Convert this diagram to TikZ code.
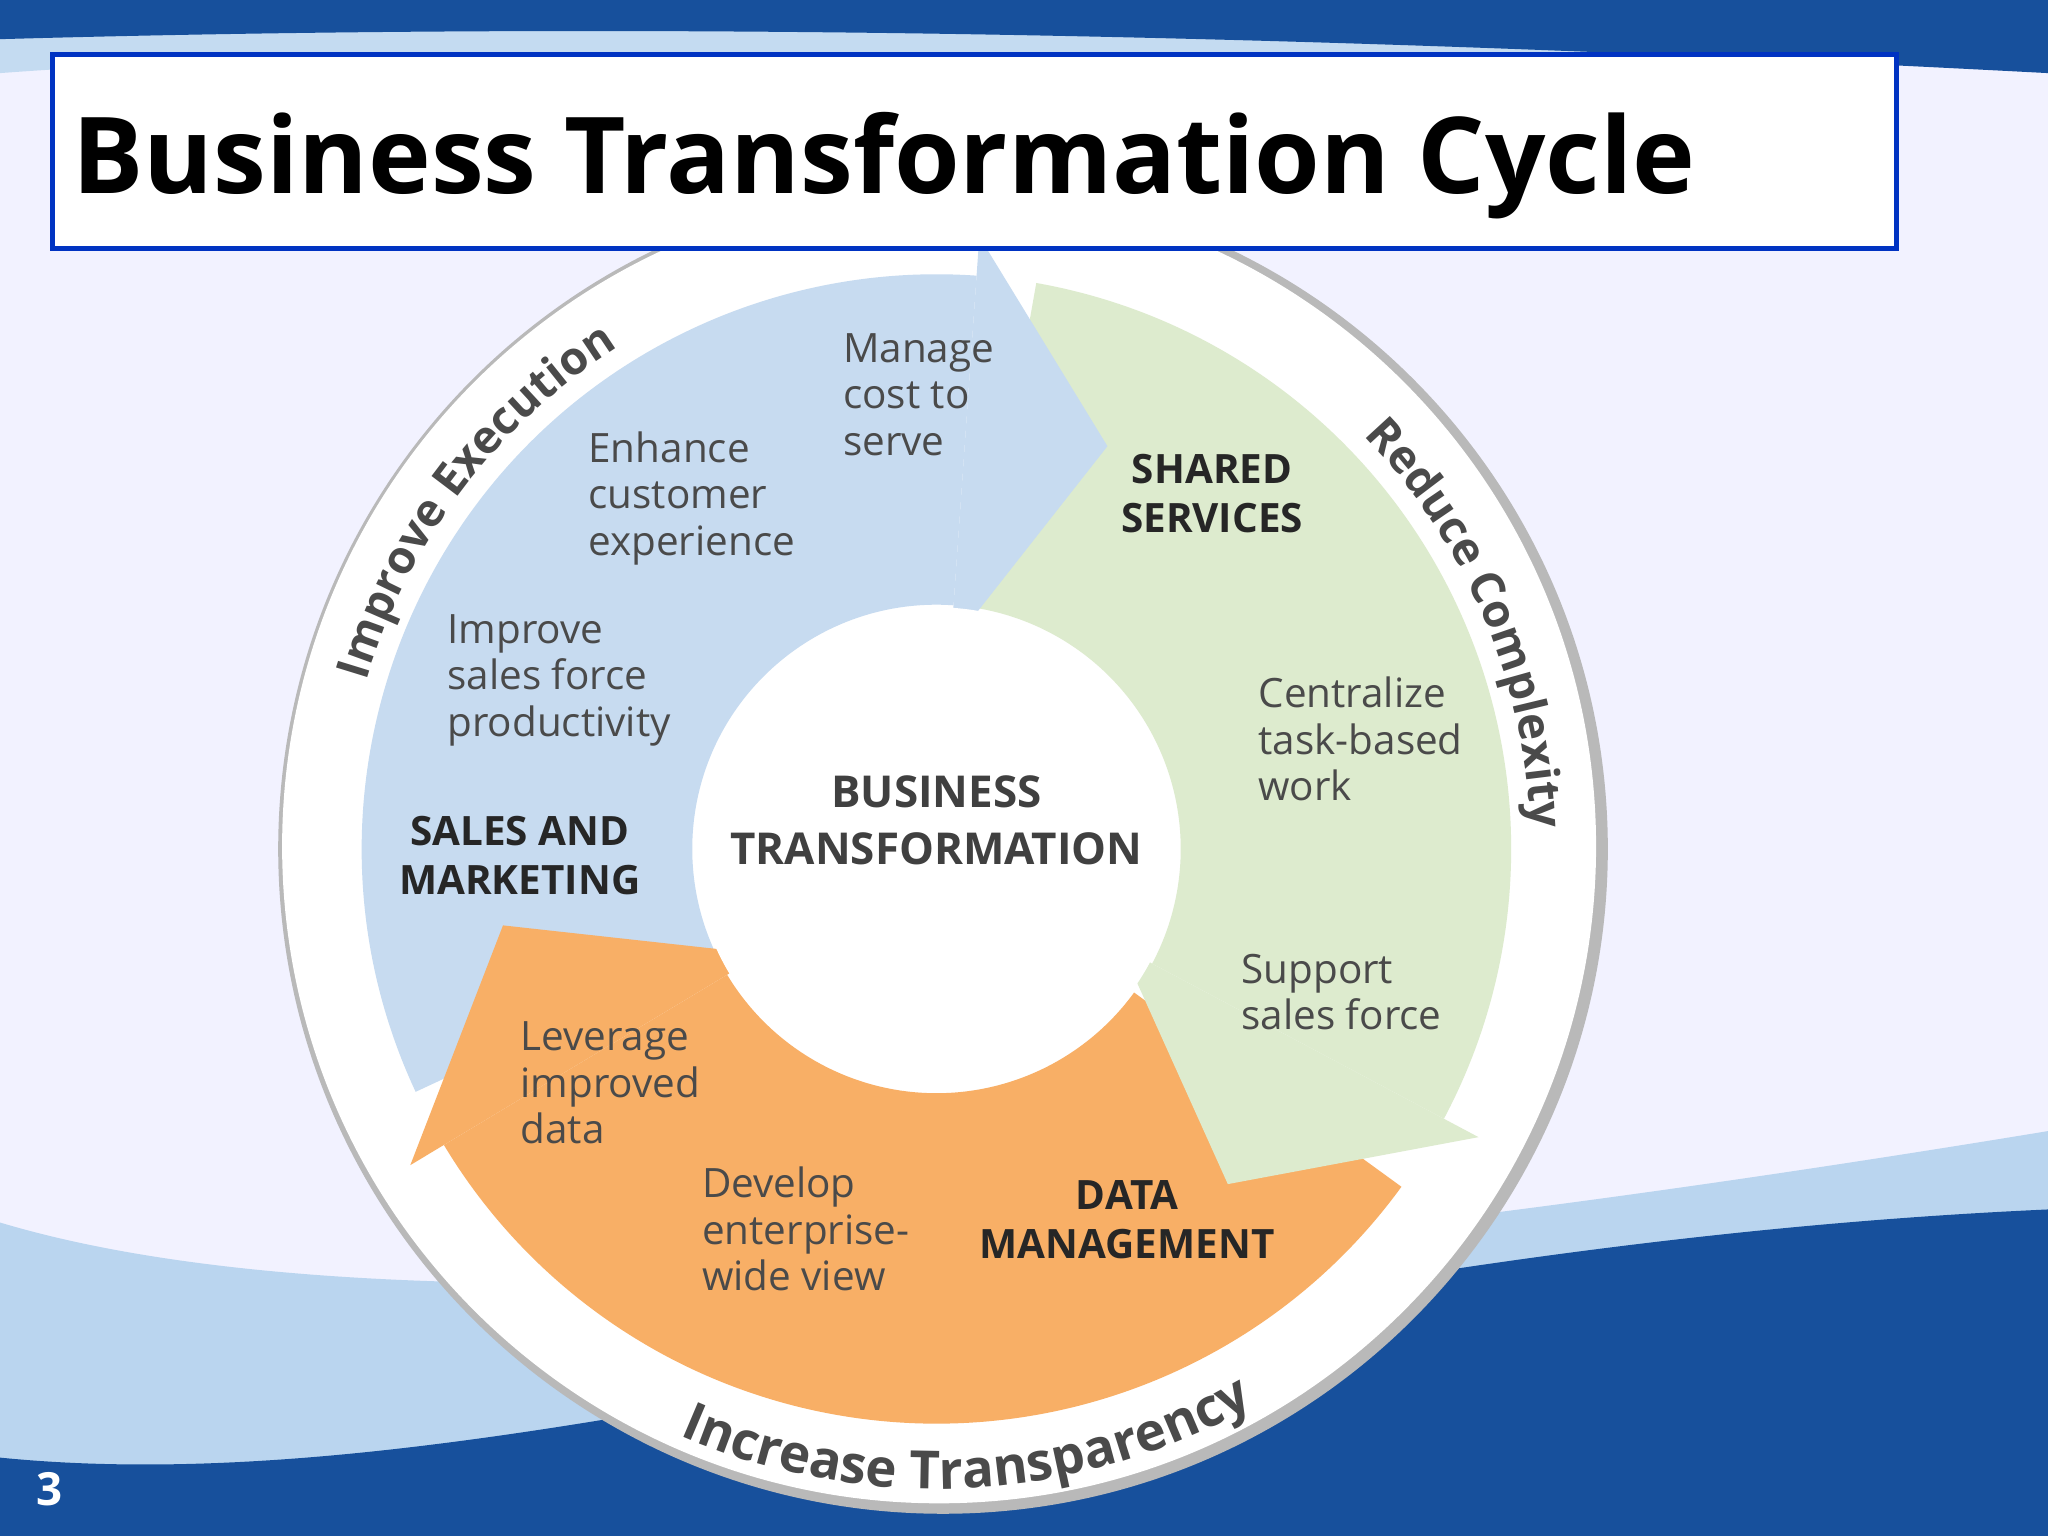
\documentclass[tikz,border=0pt]{standalone}
\usepackage{fontspec}
\setmainfont{Open Sans}
\setsansfont{Open Sans}
\usetikzlibrary{decorations.text}
\definecolor{bluA}{HTML}{C7DBF0}
\definecolor{grnA}{HTML}{DDEBCE}
\definecolor{orgA}{HTML}{F8AF66}
\definecolor{dkblue}{HTML}{17509C}
\definecolor{ltblue}{HTML}{9CC3E8}
\definecolor{txtgray}{HTML}{4A4A4A}
\begin{document}
\begin{tikzpicture}[x=0.013061cm,y=0.013061cm,
  txt/.style={anchor=north west,align=left,font=\fontsize{11.5}{13.2}\selectfont,text=txtgray,inner sep=0},
  hdr/.style={align=center,font=\fontsize{11.5}{14}\selectfont\bfseries,text=black!85,inner sep=0},
  arcdec/.style={decoration={text along path,text={#1},text align=center},decorate}]
\useasboundingbox (0,0) rectangle (1568,1176);
% background
\fill[white!95!blue] (0,0) rectangle (1568,1176);
\fill[ltblue!60] (0,1176) -- (0,1120) .. controls (400,1150) and (900,1110) .. (1568,1150) -- (1568,1176) -- cycle;
\fill[dkblue] (0,1176) -- (0,1146) .. controls (500,1160) and (1000,1150) .. (1568,1120) -- (1568,1176) -- cycle;
\fill[ltblue!70] (0,0) -- (0,240) .. controls (300,150) and (900,200) .. (1568,310) -- (1568,0) -- cycle;
\fill[dkblue] (0,0) -- (0,60) .. controls (400,20) and (900,220) .. (1568,250) -- (1568,0) -- cycle;
% outer disc
\begin{scope}[shift={(722,526)}]
\fill[gray!55] (0,0) circle[radius=509];
\fill[white] (-3,2) circle[radius=503];
\end{scope}
\begin{scope}[shift={(717,526)}]
% bodies
\fill[bluA] (205:440) arc[start angle=205,end angle=86,radius=440] -- (86:187) arc[start angle=86,end angle=205,radius=187] -- cycle;
\fill[grnA] (80:440) arc[start angle=80,end angle=-28,radius=440] -- (-28:187) arc[start angle=-28,end angle=80,radius=187] -- cycle;
\fill[orgA] (-36:440) arc[start angle=-36,end angle=-149,radius=440] -- (-149:187) arc[start angle=-149,end angle=-36,radius=187] -- cycle;
% heads
\fill[bluA] (86:470) -- (67:335) -- (86:156) -- cycle;
\fill[grnA] (-28:470) -- (-49:340) -- (-28:160) -- cycle;
\fill[orgA] (-149:470) -- (-170:337) -- (-149:156) -- cycle;
\fill[white] (0,0) circle[radius=185];
% curved labels
\path[arcdec={|\fontsize{13}{13}\selectfont\bfseries\color{txtgray}|Improve Execution}] (168:455) arc[start angle=168,end angle=118,radius=455];
\path[arcdec={|\fontsize{13}{13}\selectfont\bfseries\color{txtgray}|Reduce Complexity}] (50:455) arc[start angle=50,end angle=-4,radius=455];
\path[arcdec={|\fontsize{15}{15}\selectfont\bfseries\color{txtgray}|Increase Transparency}] (239:490) arc[start angle=239,end angle=307,radius=490];
\end{scope}
% title
\node[draw=blue!70!black!80!cyan,line width=1.5pt,fill=white,minimum width=1412*0.013061cm,minimum height=148*0.013061cm,anchor=north west,inner sep=0] (title) at (38,1136) {};
\node[anchor=base west,font=\fontsize{30.2}{30}\selectfont\bfseries,inner sep=0] (ttext) at (55,1028) {Business Transformation Cycle};
\node[font=\fontsize{13}{13}\selectfont\bfseries,text=white] (num) at (38,36) {3};
% texts
\node[txt] (t1) at (645,921) {Manage\\cost to\\serve};
\node[txt] (t2) at (450,846) {Enhance\\customer\\experience};
\node[txt] (t3) at (342,706) {Improve\\sales force\\productivity};
\node[hdr] (h1) at (398,521) {SALES AND\\MARKETING};
\node[hdr,font=\fontsize{12.5}{16}\selectfont\bfseries,text=black!75] (hc) at (717,548) {BUSINESS\\TRANSFORMATION};
\node[hdr] (h2) at (928,798) {SHARED\\SERVICES};
\node[txt] (t4) at (963,658) {Centralize\\task-based\\work};
\node[txt] (t5) at (950,446) {Support\\sales force};
\node[txt] (t6) at (398,394) {Leverage\\improved\\data};
\node[txt] (t7) at (537,283) {Develop\\enterprise-\\wide view};
\node[hdr] (h3) at (863,242) {DATA\\MANAGEMENT};
\end{tikzpicture}
\end{document}
